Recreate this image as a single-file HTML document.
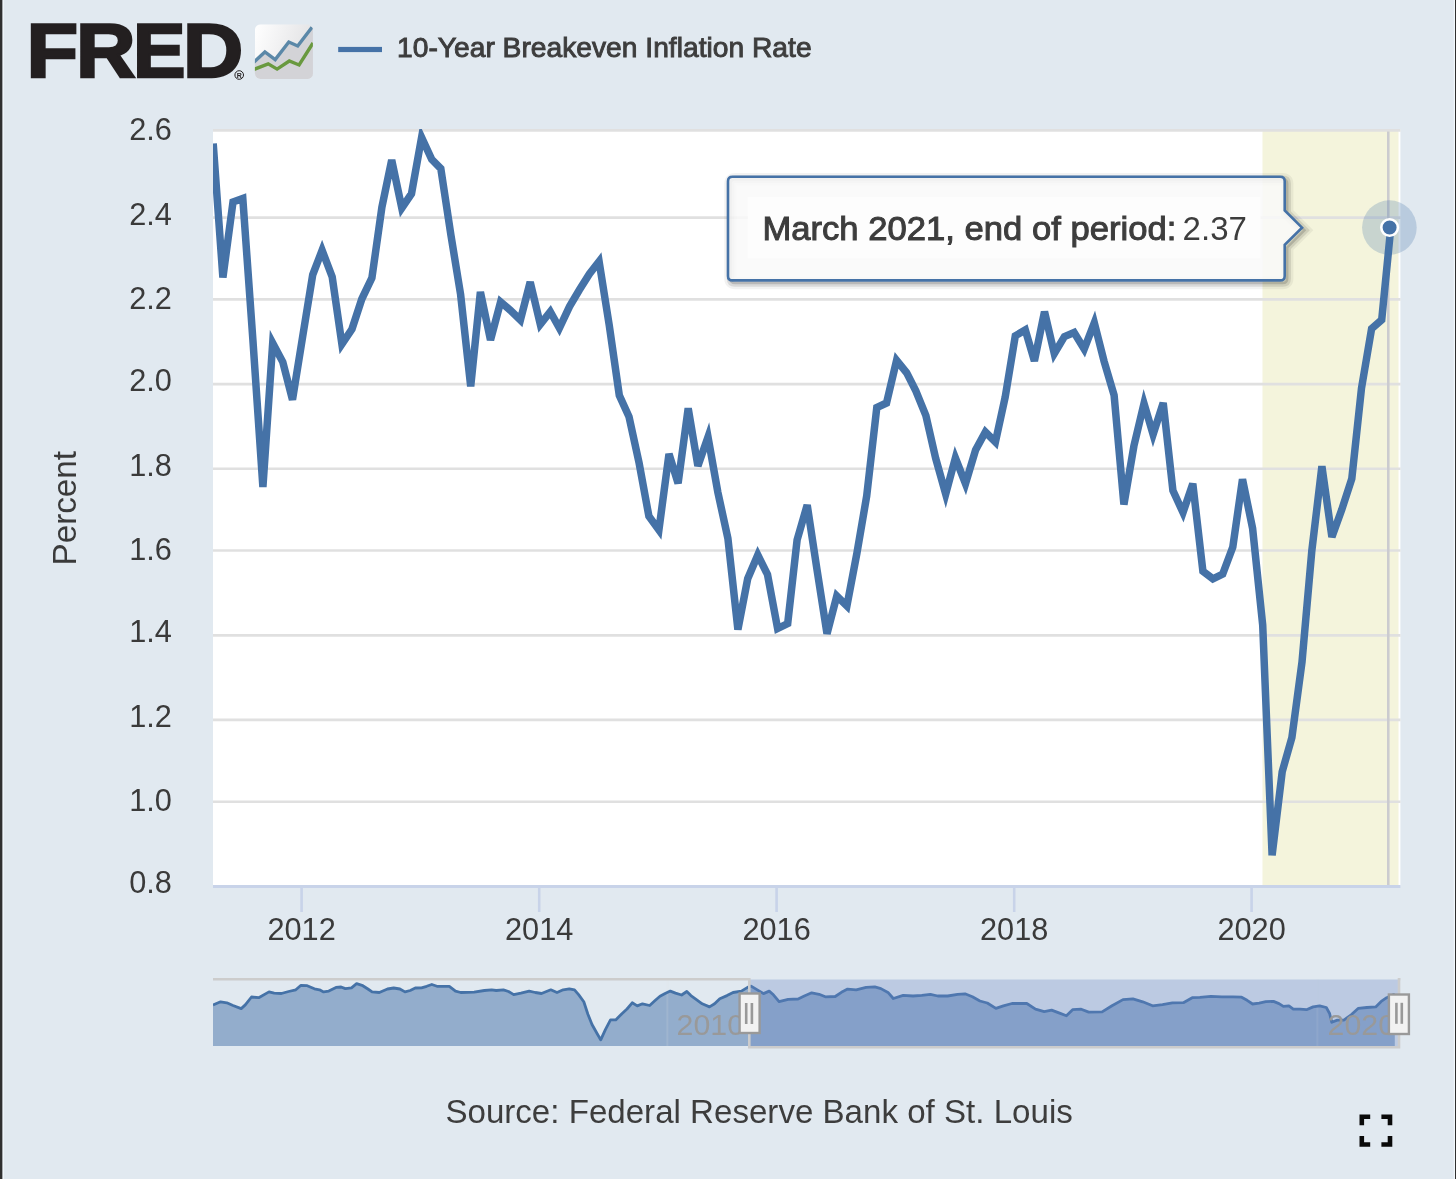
<!DOCTYPE html>
<html><head><meta charset="utf-8"><title>FRED 10-Year Breakeven Inflation Rate</title>
<style>
html,body{margin:0;padding:0;background:#e1e9f0;}
body{width:1456px;height:1179px;overflow:hidden;position:relative;}
svg{position:absolute;left:0;top:0;display:block;}
text{font-family:"Liberation Sans",Arial,sans-serif;}
</style></head>
<body>
<svg width="1456" height="1179" viewBox="0 0 1456 1179">
<defs>
<clipPath id="plot"><rect x="213" y="129" width="1187.4" height="756.5"/></clipPath>
<clipPath id="navc"><rect x="213" y="979" width="1186" height="68"/></clipPath>
<linearGradient id="icg" x1="0" y1="0" x2="1" y2="0.3">
<stop offset="0" stop-color="#ffffff"/><stop offset="1" stop-color="#e2e2e4"/></linearGradient>
<clipPath id="icc"><rect x="254.9" y="24.3" width="58" height="54.6" rx="5.5"/></clipPath>
</defs>
<!-- frame borders -->
<rect x="0" y="0" width="2.6" height="1179" fill="#303030"/>
<rect x="2.6" y="0" width="1.2" height="1179" fill="#f2f8fc"/>
<rect x="1455" y="0" width="1" height="1179" fill="#303030"/>
<rect x="1453.8" y="0" width="1.2" height="1179" fill="#f2f8fc"/>

<!-- logo -->
<g font-size="76" font-weight="bold" fill="#231f20" stroke="#231f20" stroke-width="2.4">
<text x="26.55" y="77.3" textLength="51.64" lengthAdjust="spacingAndGlyphs">F</text>
<text x="75.94" y="77.3" textLength="59.54" lengthAdjust="spacingAndGlyphs">R</text>
<text x="132.95" y="77.3" textLength="52.53" lengthAdjust="spacingAndGlyphs">E</text>
<text x="183.07" y="77.3" textLength="60.21" lengthAdjust="spacingAndGlyphs">D</text>
</g>
<circle cx="239.2" cy="75" r="4.3" fill="none" stroke="#231f20" stroke-width="1"/>
<text x="239.2" y="77.6" font-size="7" font-weight="bold" fill="#231f20" text-anchor="middle">R</text>
<g clip-path="url(#icc)">
<rect x="254.9" y="24.3" width="58" height="54.6" fill="url(#icg)"/>
<path d="M254,62 L264.9,52 L275.2,59.6 L288.8,42 L297.7,46 L313,26 L313,80 L254,80 Z" fill="#d3d3d7"/>
<polyline points="253.5,62.5 264.9,52 275.2,59.6 288.8,42 297.7,46 312,27.2" fill="none" stroke="#5b88a8" stroke-width="3.4"/>
<polyline points="253.5,69.6 268.2,63.9 277.1,69.1 289.3,61 299.1,65 313,43" fill="none" stroke="#69993f" stroke-width="3.4"/>
</g>

<!-- legend -->
<rect x="338.2" y="46.9" width="43.8" height="5.2" fill="#4572a7"/>
<text x="397" y="56.8" font-size="27.6" fill="#3d3d3d" stroke="#3d3d3d" stroke-width="0.9" textLength="414.6" lengthAdjust="spacingAndGlyphs">10-Year Breakeven Inflation Rate</text>

<!-- plot area -->
<rect x="213" y="129" width="1187.4" height="756.5" fill="#ffffff"/>
<rect x="1262.5" y="129" width="136" height="756.5" fill="#f4f4dc"/>
<g stroke="#e0e0e0" stroke-width="2.6" fill="none"><line x1="213" x2="1400.5" y1="130.4" y2="130.4"/><line x1="213" x2="1400.5" y1="217.6" y2="217.6"/><line x1="213" x2="1400.5" y1="299.4" y2="299.4"/><line x1="213" x2="1400.5" y1="384.1" y2="384.1"/><line x1="213" x2="1400.5" y1="468.8" y2="468.8"/><line x1="213" x2="1400.5" y1="550.5" y2="550.5"/><line x1="213" x2="1400.5" y1="635.4" y2="635.4"/><line x1="213" x2="1400.5" y1="719.9" y2="719.9"/><line x1="213" x2="1400.5" y1="801.8" y2="801.8"/></g>
<line x1="1388.3" x2="1388.3" y1="131.6" y2="885.5" stroke="#cbcbcf" stroke-width="2.6"/>
<!-- x axis -->
<line x1="213" x2="1400.4" y1="886.5" y2="886.5" stroke="#c8d3e9" stroke-width="2.8"/>
<g stroke="#c8d3e9" stroke-width="2.6">
<line x1="301.6" x2="301.6" y1="887" y2="912"/>
<line x1="539.2" x2="539.2" y1="887" y2="912"/>
<line x1="776.6" x2="776.6" y1="887" y2="912"/>
<line x1="1014.2" x2="1014.2" y1="887" y2="912"/>
<line x1="1251.6" x2="1251.6" y1="887" y2="912"/>
</g>
<!-- series -->
<g clip-path="url(#plot)">
<polyline points="213.2,143.5 222.9,277.4 233.0,202.0 242.8,198.5 252.9,340.0 262.9,487.0 272.7,343.0 282.8,362.0 292.5,399.7 302.6,337.0 312.7,274.8 322.1,250.3 332.2,277.0 341.9,344.0 352.0,329.0 361.8,299.0 371.9,278.0 381.9,207.2 391.7,160.0 401.8,208.0 411.5,193.7 421.6,137.4 431.7,159.3 440.8,168.5 450.9,235.0 460.6,294.5 470.7,386.4 480.4,292.0 490.5,340.0 500.6,302.0 510.4,310.3 520.4,320.0 530.2,282.0 540.3,324.4 550.3,311.7 559.4,328.0 569.5,306.6 579.3,290.0 589.4,274.0 599.1,261.5 609.2,325.0 619.3,395.4 629.0,416.6 639.1,463.0 648.9,516.3 658.9,530.0 669.0,453.9 678.1,483.3 688.2,408.3 697.9,466.0 708.0,437.0 717.8,492.0 727.9,538.4 737.9,629.5 747.7,578.7 757.8,555.0 767.5,574.5 777.6,628.5 787.7,623.5 797.1,540.0 807.2,505.0 816.9,569.0 827.0,633.7 836.8,596.0 846.9,606.0 856.9,553.3 866.7,496.0 876.8,407.5 886.5,403.0 896.6,360.3 906.7,372.8 915.8,390.8 925.9,415.6 935.6,458.0 945.7,494.0 955.4,457.9 965.5,483.7 975.6,450.0 985.4,432.0 995.4,442.0 1005.2,397.0 1015.3,335.8 1025.3,330.0 1034.4,361.0 1044.5,311.7 1054.3,353.6 1064.4,336.6 1074.1,332.5 1084.2,349.0 1094.3,322.9 1104.0,361.0 1114.1,395.2 1123.9,504.5 1133.9,446.0 1144.0,403.5 1153.1,434.4 1163.2,402.9 1172.9,490.5 1183.0,512.5 1192.8,483.8 1202.9,571.3 1212.9,578.8 1222.7,574.1 1232.8,547.0 1242.5,479.3 1252.6,528.4 1262.7,625.0 1272.1,855.3 1282.2,771.7 1291.9,737.4 1302.0,662.0 1311.8,551.0 1321.9,466.3 1331.9,537.0 1341.7,509.8 1351.8,478.6 1361.5,388.2 1371.6,328.7 1381.7,319.8 1390.8,227.7" fill="none" stroke="#4572a7" stroke-width="7.5" stroke-linejoin="miter" stroke-miterlimit="4" stroke-linecap="butt"/>
</g>
<circle cx="1389.4" cy="227.6" r="27.3" fill="#4572a7" fill-opacity="0.25"/>
<circle cx="1389.6" cy="227.5" r="8.3" fill="#4572a7" stroke="#ffffff" stroke-width="2.6"/>

<!-- axis labels -->
<g font-size="30.7" fill="#3a3a3a"><text x="171.8" y="140.0" text-anchor="end">2.6</text><text x="171.8" y="224.5" text-anchor="end">2.4</text><text x="171.8" y="309.2" text-anchor="end">2.2</text><text x="171.8" y="391.4" text-anchor="end">2.0</text><text x="171.8" y="475.5" text-anchor="end">1.8</text><text x="171.8" y="560.2" text-anchor="end">1.6</text><text x="171.8" y="642.4" text-anchor="end">1.4</text><text x="171.8" y="727.2" text-anchor="end">1.2</text><text x="171.8" y="811.2" text-anchor="end">1.0</text><text x="171.8" y="893.2" text-anchor="end">0.8</text></g>
<g font-size="30.7" fill="#3a3a3a"><text x="301.6" y="939.8" text-anchor="middle">2012</text><text x="539.2" y="939.8" text-anchor="middle">2014</text><text x="776.6" y="939.8" text-anchor="middle">2016</text><text x="1014.2" y="939.8" text-anchor="middle">2018</text><text x="1251.6" y="939.8" text-anchor="middle">2020</text></g>
<text transform="translate(76,508.2) rotate(-90)" font-size="32.5" fill="#3a3a3a" text-anchor="middle" textLength="114.6" lengthAdjust="spacingAndGlyphs">Percent</text>

<!-- tooltip -->
<g fill="none" stroke="#000" transform="translate(2.5,2.5)">
<path d="M732.5,176.8 L1280.2,176.8 Q1284.7,176.8 1284.7,181.3 L1284.7,210.5 L1302.0,227.7 L1284.7,244.9 L1284.7,275.9 Q1284.7,280.4 1280.2,280.4 L732.5,280.4 Q728.0,280.4 728.0,275.9 L728.0,181.3 Q728.0,176.8 732.5,176.8 Z" stroke-opacity="0.05" stroke-width="12.5"/>
<path d="M732.5,176.8 L1280.2,176.8 Q1284.7,176.8 1284.7,181.3 L1284.7,210.5 L1302.0,227.7 L1284.7,244.9 L1284.7,275.9 Q1284.7,280.4 1280.2,280.4 L732.5,280.4 Q728.0,280.4 728.0,275.9 L728.0,181.3 Q728.0,176.8 732.5,176.8 Z" stroke-opacity="0.1" stroke-width="7.5"/>
<path d="M732.5,176.8 L1280.2,176.8 Q1284.7,176.8 1284.7,181.3 L1284.7,210.5 L1302.0,227.7 L1284.7,244.9 L1284.7,275.9 Q1284.7,280.4 1280.2,280.4 L732.5,280.4 Q728.0,280.4 728.0,275.9 L728.0,181.3 Q728.0,176.8 732.5,176.8 Z" stroke-opacity="0.15" stroke-width="2.5"/>
</g>
<path d="M732.5,176.8 L1280.2,176.8 Q1284.7,176.8 1284.7,181.3 L1284.7,210.5 L1302.0,227.7 L1284.7,244.9 L1284.7,275.9 Q1284.7,280.4 1280.2,280.4 L732.5,280.4 Q728.0,280.4 728.0,275.9 L728.0,181.3 Q728.0,176.8 732.5,176.8 Z" fill="#f9f9f9" fill-opacity="0.85" stroke="#4572a7" stroke-width="2.6"/>
<rect x="747.8" y="197" width="512.5" height="61.4" fill="#fdfdfd"/>
<text x="762.4" y="239.7" font-size="33.8" fill="#3d3d3d" stroke="#3d3d3d" stroke-width="1.0" textLength="413.9" lengthAdjust="spacingAndGlyphs">March 2021, end of period:</text>
<text x="1182.6" y="239.9" font-size="33" fill="#3d3d3d" textLength="64.3" lengthAdjust="spacingAndGlyphs">2.37</text>

<!-- navigator -->
<g clip-path="url(#navc)">
<path d="M213.0,1046 L213.0,1004.9 L220.6,1001.8 L226.8,1002.8 L233.0,1005.5 L241.2,1008.6 L245.3,1004.9 L251.5,997.0 L258.7,997.7 L269.0,991.9 L274.2,993.1 L281.4,993.5 L288.6,991.5 L295.8,989.8 L301.0,985.3 L307.2,985.7 L314.4,988.8 L319.5,989.8 L323.6,991.9 L328.8,991.1 L336.0,987.4 L341.1,987.0 L345.3,988.6 L351.5,987.8 L356.6,983.7 L362.8,985.7 L367.9,989.0 L372.1,991.9 L379.3,992.5 L387.5,989.0 L393.7,988.0 L399.9,989.0 L405.0,991.9 L410.2,990.5 L415.3,988.0 L421.5,987.8 L426.7,986.3 L431.8,984.5 L437.0,986.3 L449.3,986.3 L455.5,991.1 L460.7,992.5 L474.1,992.1 L484.4,990.5 L491.6,989.8 L496.2,990.5 L503.4,989.8 L508.5,991.5 L513.7,994.6 L520.9,993.1 L529.2,991.1 L535.3,992.5 L541.5,993.5 L550.8,989.8 L557.0,992.5 L563.2,989.8 L569.3,988.8 L574.5,989.8 L578.6,994.6 L583.8,1001.8 L587.9,1014.2 L592.0,1024.5 L597.2,1033.7 L600.7,1039.9 L605.4,1029.6 L610.5,1019.9 L615.7,1019.9 L621.9,1013.7 L627.0,1009.0 L632.2,1002.8 L637.3,1005.9 L642.5,1003.8 L649.7,1005.5 L654.8,1000.8 L660.0,996.2 L665.1,993.5 L670.3,991.1 L675.5,993.1 L681.6,995.0 L686.8,991.5 L690.9,995.6 L696.1,999.3 L702.2,1003.8 L709.5,1006.9 L714.6,1003.8 L719.8,998.7 L727.0,995.6 L733.1,992.5 L741.4,991.1 L747.6,987.4 L751.1,986.1 L757.3,989.9 L763.5,993.6 L769.2,991.1 L773.4,994.8 L779.1,1001.7 L788.2,999.3 L798.1,999.0 L804.3,996.0 L811.7,992.8 L819.1,994.3 L825.3,996.8 L835.2,996.5 L841.4,992.3 L847.6,989.1 L856.2,989.9 L866.1,987.4 L874.8,986.9 L880.9,988.6 L888.4,992.8 L893.3,998.5 L903.2,995.3 L913.1,996.0 L921.8,995.3 L930.4,994.3 L937.8,996.0 L947.7,996.0 L957.6,994.3 L965.0,993.8 L972.4,996.8 L979.9,1001.0 L987.3,1003.0 L995.9,1008.4 L1003.4,1005.9 L1012.0,1003.5 L1026.8,1003.5 L1035.5,1009.2 L1044.2,1011.6 L1051.6,1010.1 L1060.2,1013.4 L1066.4,1015.8 L1072.6,1009.7 L1081.2,1009.2 L1088.7,1012.1 L1102.1,1011.9 L1112.0,1005.8 L1123.0,999.6 L1132.9,998.8 L1142.7,1001.8 L1152.6,1005.8 L1162.5,1004.7 L1172.4,1002.9 L1183.4,1002.7 L1192.2,997.7 L1199.9,997.4 L1210.9,996.3 L1221.9,996.8 L1232.9,996.8 L1241.6,997.2 L1247.1,1000.3 L1252.6,1004.0 L1259.2,1003.2 L1265.8,1001.6 L1273.5,1001.4 L1279.0,1003.6 L1283.4,1006.4 L1288.9,1005.8 L1293.3,1009.1 L1299.9,1009.1 L1306.5,1009.7 L1313.1,1006.9 L1319.7,1005.8 L1326.3,1007.5 L1329.6,1013.5 L1331.8,1022.3 L1337.3,1020.1 L1343.8,1020.1 L1351.5,1014.6 L1358.1,1008.4 L1366.9,1007.5 L1375.7,1006.9 L1381.2,1001.4 L1386.7,997.7 L1392.2,995.2 L1394.8,994.4 L1394.8,1046 Z" fill="#4572a7" fill-opacity="0.5"/>
<line x1="667.4" x2="667.4" y1="979" y2="1046" stroke="#e6e6e6" stroke-opacity="0.15" stroke-width="2"/>
<line x1="1317.4" x2="1317.4" y1="979" y2="1046" stroke="#e6e6e6" stroke-opacity="0.15" stroke-width="2"/>
<polyline points="213.0,1004.9 220.6,1001.8 226.8,1002.8 233.0,1005.5 241.2,1008.6 245.3,1004.9 251.5,997.0 258.7,997.7 269.0,991.9 274.2,993.1 281.4,993.5 288.6,991.5 295.8,989.8 301.0,985.3 307.2,985.7 314.4,988.8 319.5,989.8 323.6,991.9 328.8,991.1 336.0,987.4 341.1,987.0 345.3,988.6 351.5,987.8 356.6,983.7 362.8,985.7 367.9,989.0 372.1,991.9 379.3,992.5 387.5,989.0 393.7,988.0 399.9,989.0 405.0,991.9 410.2,990.5 415.3,988.0 421.5,987.8 426.7,986.3 431.8,984.5 437.0,986.3 449.3,986.3 455.5,991.1 460.7,992.5 474.1,992.1 484.4,990.5 491.6,989.8 496.2,990.5 503.4,989.8 508.5,991.5 513.7,994.6 520.9,993.1 529.2,991.1 535.3,992.5 541.5,993.5 550.8,989.8 557.0,992.5 563.2,989.8 569.3,988.8 574.5,989.8 578.6,994.6 583.8,1001.8 587.9,1014.2 592.0,1024.5 597.2,1033.7 600.7,1039.9 605.4,1029.6 610.5,1019.9 615.7,1019.9 621.9,1013.7 627.0,1009.0 632.2,1002.8 637.3,1005.9 642.5,1003.8 649.7,1005.5 654.8,1000.8 660.0,996.2 665.1,993.5 670.3,991.1 675.5,993.1 681.6,995.0 686.8,991.5 690.9,995.6 696.1,999.3 702.2,1003.8 709.5,1006.9 714.6,1003.8 719.8,998.7 727.0,995.6 733.1,992.5 741.4,991.1 747.6,987.4 751.1,986.1 757.3,989.9 763.5,993.6 769.2,991.1 773.4,994.8 779.1,1001.7 788.2,999.3 798.1,999.0 804.3,996.0 811.7,992.8 819.1,994.3 825.3,996.8 835.2,996.5 841.4,992.3 847.6,989.1 856.2,989.9 866.1,987.4 874.8,986.9 880.9,988.6 888.4,992.8 893.3,998.5 903.2,995.3 913.1,996.0 921.8,995.3 930.4,994.3 937.8,996.0 947.7,996.0 957.6,994.3 965.0,993.8 972.4,996.8 979.9,1001.0 987.3,1003.0 995.9,1008.4 1003.4,1005.9 1012.0,1003.5 1026.8,1003.5 1035.5,1009.2 1044.2,1011.6 1051.6,1010.1 1060.2,1013.4 1066.4,1015.8 1072.6,1009.7 1081.2,1009.2 1088.7,1012.1 1102.1,1011.9 1112.0,1005.8 1123.0,999.6 1132.9,998.8 1142.7,1001.8 1152.6,1005.8 1162.5,1004.7 1172.4,1002.9 1183.4,1002.7 1192.2,997.7 1199.9,997.4 1210.9,996.3 1221.9,996.8 1232.9,996.8 1241.6,997.2 1247.1,1000.3 1252.6,1004.0 1259.2,1003.2 1265.8,1001.6 1273.5,1001.4 1279.0,1003.6 1283.4,1006.4 1288.9,1005.8 1293.3,1009.1 1299.9,1009.1 1306.5,1009.7 1313.1,1006.9 1319.7,1005.8 1326.3,1007.5 1329.6,1013.5 1331.8,1022.3 1337.3,1020.1 1343.8,1020.1 1351.5,1014.6 1358.1,1008.4 1366.9,1007.5 1375.7,1006.9 1381.2,1001.4 1386.7,997.7 1392.2,995.2 1394.8,994.4" fill="none" stroke="#4572a7" stroke-width="2.8" stroke-linejoin="round"/>
</g>
<rect x="749.6" y="979.5" width="648.6" height="66.8" fill="#6685c2" fill-opacity="0.3"/>
<text x="676.6" y="1035" font-size="30.3" fill="#999999">2010</text>
<text x="1327.6" y="1035" font-size="30.3" fill="#999999">2020</text>
<path d="M213,979.2 L749.3,979.2 L749.3,1047.2 L1399,1047.2 L1399,979.2 L1400.5,979.2" fill="none" stroke="#cccccc" stroke-width="2.6"/>
<g>
<rect x="739.6" y="993.5" width="20" height="39.5" fill="#f2f2f2" stroke="#999999" stroke-width="2.4"/>
<line x1="746.2" x2="746.2" y1="1003" y2="1024" stroke="#999999" stroke-width="2.6"/>
<line x1="751.9" x2="751.9" y1="1003" y2="1024" stroke="#999999" stroke-width="2.6"/>
<rect x="1388.9" y="994.5" width="20" height="39.5" fill="#f2f2f2" stroke="#999999" stroke-width="2.4"/>
<line x1="1396.4" x2="1396.4" y1="1002.8" y2="1023.8" stroke="#999999" stroke-width="2.6"/>
<line x1="1401.8" x2="1401.8" y1="1002.8" y2="1023.8" stroke="#999999" stroke-width="2.6"/>
</g>

<!-- source -->
<text x="445.4" y="1123.2" font-size="32.6" fill="#3d3d3d" textLength="627.4" lengthAdjust="spacingAndGlyphs">Source: Federal Reserve Bank of St. Louis</text>
<!-- fullscreen icon -->
<g fill="none" stroke="#0a0a0a" stroke-width="4.6" stroke-linecap="butt" stroke-linejoin="miter">
<polyline points="1361.8,1125.2 1361.8,1116.8 1370.2,1116.8"/>
<polyline points="1381.4,1116.8 1390,1116.8 1390,1125.2"/>
<polyline points="1361.8,1135.9 1361.8,1144.5 1370.2,1144.5"/>
<polyline points="1381.4,1144.5 1390,1144.5 1390,1135.9"/>
</g>
</svg>
</body></html>
